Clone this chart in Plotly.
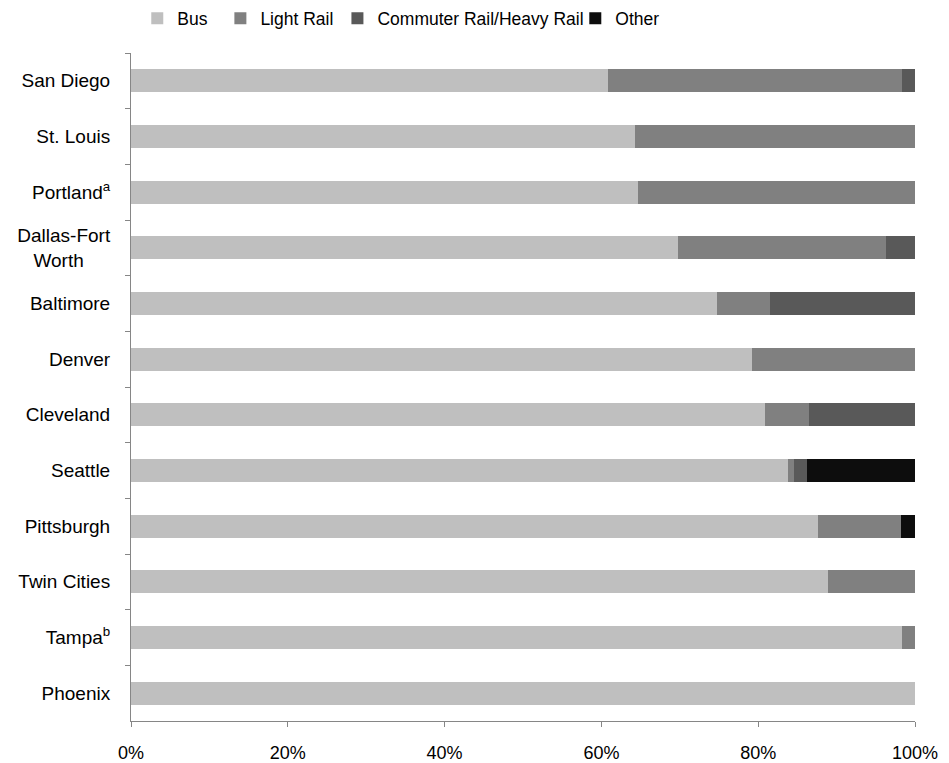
import plotly.graph_objects as go

cities = ["San Diego", "St. Louis", "Portland<sup>a</sup>", "Dallas-Fort<br>Worth" + "\u00a0" * 5,
          "Baltimore", "Denver", "Cleveland", "Seattle", "Pittsburgh", "Twin Cities",
          "Tampa<sup>b</sup>", "Phoenix"]
bus =       [60.8, 64.3, 64.7, 69.8, 74.7, 79.2, 80.9, 83.8, 87.6, 88.9, 98.4, 100.0]
light_rail = [37.5, 35.7, 35.3, 26.5, 6.8, 20.8, 5.6, 0.8, 10.6, 11.1, 1.6, 0.0]
commuter =  [1.7, 0.0, 0.0, 3.7, 18.5, 0.0, 13.5, 1.6, 0.0, 0.0, 0.0, 0.0]
other =     [0.0, 0.0, 0.0, 0.0, 0.0, 0.0, 0.0, 13.8, 1.8, 0.0, 0.0, 0.0]

series = [("Bus", bus, "#BFBFBF"), ("Light Rail", light_rail, "#808080"),
          ("Commuter Rail/Heavy Rail", commuter, "#595959"), ("Other", other, "#0D0D0D")]
x_ticks = [0, 20, 40, 60, 80, 100]
x_tick_labels = ["0%", "20%", "40%", "60%", "80%", "100%"]

legend_names = ["legend", "legend2", "legend3", "legend4"]
legend_x = [0.0080, 0.1140, 0.2633, 0.5667]

fig = go.Figure()
for (name, vals, color), lg in zip(series, legend_names):
    fig.add_trace(go.Bar(y=cities, x=vals, name=name, orientation="h", legend=lg,
                         marker=dict(color=color, line=dict(width=0)), width=0.41))

font = dict(family="Liberation Sans, Arial, sans-serif", size=19, color="#000000")
legend_font = dict(family="Liberation Sans, Arial, sans-serif", size=17.5, color="#000000")

legends = {}
for lg, lx in zip(legend_names, legend_x):
    legends[lg] = dict(orientation="h", x=lx, xanchor="left", y=0.976, yref="container",
                       yanchor="middle", font=legend_font, itemwidth=30,
                       itemclick=False, itemdoubleclick=False, bgcolor="rgba(0,0,0,0)")

fig.update_layout(
    barmode="stack",
    width=949, height=763,
    margin=dict(l=131, r=34, t=53, b=42),
    plot_bgcolor="white", paper_bgcolor="white",
    font=font,
    showlegend=True,
    xaxis=dict(range=[0, 100], tickvals=x_ticks, ticktext=x_tick_labels,
               showgrid=False, zeroline=False, showline=True, linecolor="#868686",
               linewidth=1, ticks="outside", ticklen=5, tickcolor="#868686",
               ticklabelstandoff=10, tickfont=dict(size=18), fixedrange=True,
               automargin=False),
    yaxis=dict(categoryorder="array", categoryarray=cities, autorange="reversed",
               showgrid=False, zeroline=False, showline=True, linecolor="#868686",
               linewidth=1, ticks="outside", ticklen=5, tickcolor="#868686",
               tickson="boundaries", ticklabelstandoff=16, fixedrange=True,
               automargin=False),
    **legends,
)
fig.write_html("out.html", config={"displayModeBar": False},
               post_script="document.body.style.margin='0';")
